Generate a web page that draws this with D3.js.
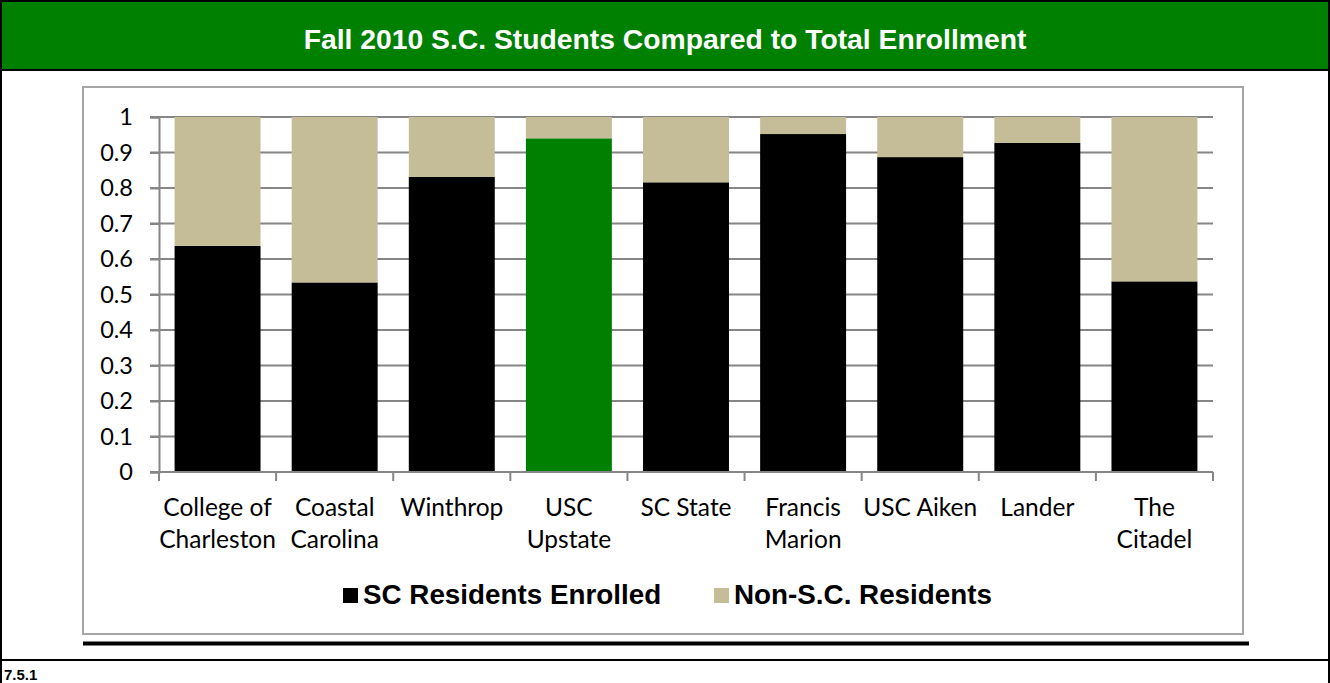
<!DOCTYPE html>
<html>
<head>
<meta charset="utf-8">
<script src="https://cdn.jsdelivr.net/npm/d3@7"></script>
<style>
  html, body { margin: 0; padding: 0; background: #fff; }
  svg { display: block; }
</style>
</head>
<body>
<svg id="chart" width="1330" height="683"></svg>
<script>
// ---- data ----
const title = "Fall 2010 S.C. Students Compared to Total Enrollment";
const categories = ["College of Charleston", "Coastal Carolina", "Winthrop", "USC Upstate", "SC State", "Francis Marion", "USC Aiken", "Lander", "The Citadel"];
const categoryLines = [["College of", "Charleston"], ["Coastal", "Carolina"], ["Winthrop"], ["USC", "Upstate"], ["SC State"], ["Francis", "Marion"], ["USC Aiken"], ["Lander"], ["The", "Citadel"]];
const scResidents = [0.637, 0.534, 0.831, 0.940, 0.816, 0.952, 0.887, 0.927, 0.537];
const nonResidents = [0.363, 0.466, 0.169, 0.060, 0.184, 0.048, 0.113, 0.073, 0.463];
const seriesNames = ["SC Residents Enrolled", "Non-S.C. Residents"];
const yTicks = [0, 0.1, 0.2, 0.3, 0.4, 0.5, 0.6, 0.7, 0.8, 0.9, 1];
const highlighted = "USC Upstate";
const footnote = "7.5.1";

// ---- styles ----
const BLACK = "#000000", TAN = "#C4BD97", GREEN = "#008000", GRID = "#868686";
const ARIAL = "'Liberation Sans', Arial, sans-serif";
const CAL = "Lato, 'Open Sans', sans-serif";

const svg = d3.select("#chart");
const W = 1330, H = 683;

// outer frame & title band
svg.append("rect").attr("x", 0).attr("y", 0).attr("width", W).attr("height", 70).attr("fill", GREEN);
svg.append("rect").attr("x", 1).attr("y", 1).attr("width", W - 2).attr("height", H + 10)
  .attr("fill", "none").attr("stroke", BLACK).attr("stroke-width", 2);
svg.append("line").attr("x1", 0).attr("x2", W).attr("y1", 70).attr("y2", 70).attr("stroke", BLACK).attr("stroke-width", 2);
svg.append("text").attr("x", W / 2).attr("y", 49).attr("text-anchor", "middle")
  .attr("font-family", ARIAL).attr("font-weight", "bold").attr("font-size", 28.3).attr("fill", "#fff").text(title);

// chart box
svg.append("rect").attr("x", 83).attr("y", 87).attr("width", 1160).attr("height", 547)
  .attr("fill", "#fff").attr("stroke", "#a6a6a6").attr("stroke-width", 2);
// thick rule under box
svg.append("line").attr("x1", 83).attr("x2", 1249).attr("y1", 643.5).attr("y2", 643.5).attr("stroke", BLACK).attr("stroke-width", 4);
// footer rule
svg.append("line").attr("x1", 0).attr("x2", W).attr("y1", 660).attr("y2", 660).attr("stroke", BLACK).attr("stroke-width", 2);
svg.append("text").attr("x", 4).attr("y", 680).attr("font-family", ARIAL).attr("font-weight", "bold")
  .attr("font-size", 15).attr("fill", BLACK).text(footnote);

// ---- scales ----
const x = d3.scaleBand().domain(categories).range([159, 1213]).paddingInner(0.266).paddingOuter(0.133);
const y = d3.scaleLinear().domain([0, 1]).range([472, 117]);

// gridlines
const g = svg.append("g");
g.selectAll("line.grid").data(yTicks).join("line").attr("class", "grid")
  .attr("x1", 150).attr("x2", 1213).attr("y1", d => y(d)).attr("y2", d => y(d))
  .attr("stroke", GRID).attr("stroke-width", 2);

// stacked bars
const stackData = categories.map((c, i) => ({ cat: c, sc: scResidents[i], non: nonResidents[i] }));
const stacked = d3.stack().keys(["sc", "non"])(stackData);
stacked.forEach((layer, li) => {
  g.selectAll(null).data(layer).join("rect")
    .attr("x", d => x(d.data.cat))
    .attr("width", x.bandwidth())
    .attr("y", d => y(d[1]))
    .attr("height", d => y(d[0]) - y(d[1]))
    .attr("fill", d => li === 0 ? (d.data.cat === highlighted ? GREEN : BLACK) : TAN);
});

// y axis
const yAxis = d3.axisLeft(y).tickValues(yTicks).tickSize(9).tickPadding(17)
  .tickFormat(d => d3.format("~g")(d));
const ya = svg.append("g").attr("transform", "translate(159,0)").call(yAxis);
ya.select(".domain").attr("stroke", GRID).attr("stroke-width", 2);
ya.selectAll(".tick line").attr("stroke", GRID).attr("stroke-width", 2);
ya.selectAll(".tick text").attr("font-family", CAL).attr("font-size", 23.5).attr("fill", BLACK);

// x axis
const step = x.step();
const boundaries = d3.range(categories.length + 1).map(i => 159 + i * step);
svg.append("line").attr("x1", 159).attr("x2", 1213).attr("y1", y(0)).attr("y2", y(0)).attr("stroke", GRID).attr("stroke-width", 2);
svg.selectAll("line.xt").data(boundaries).join("line").attr("class", "xt")
  .attr("x1", d => d).attr("x2", d => d).attr("y1", y(0)).attr("y2", y(0) + 9)
  .attr("stroke", GRID).attr("stroke-width", 2);
const labels = svg.selectAll("text.cat").data(categories).join("text").attr("class", "cat")
  .attr("text-anchor", "middle").attr("font-family", CAL).attr("font-size", 24.5).attr("fill", BLACK);
labels.each(function (c, i) {
  const t = d3.select(this);
  categoryLines[i].forEach((ln, j) => {
    t.append("tspan").attr("x", x(c) + x.bandwidth() / 2).attr("y", 516 + j * 32).text(ln);
  });
});

// legend
const legend = svg.append("g");
const legendItems = [{ name: seriesNames[0], color: BLACK, x: 343 }, { name: seriesNames[1], color: TAN, x: 714 }];
legendItems.forEach(it => {
  legend.append("rect").attr("x", it.x).attr("y", 588).attr("width", 15).attr("height", 15).attr("fill", it.color);
  legend.append("text").attr("x", it.x + 20).attr("y", 604).attr("font-family", ARIAL).attr("font-weight", "bold")
    .attr("font-size", 27.8).attr("fill", BLACK).text(it.name);
});
</script>
</body>
</html>
